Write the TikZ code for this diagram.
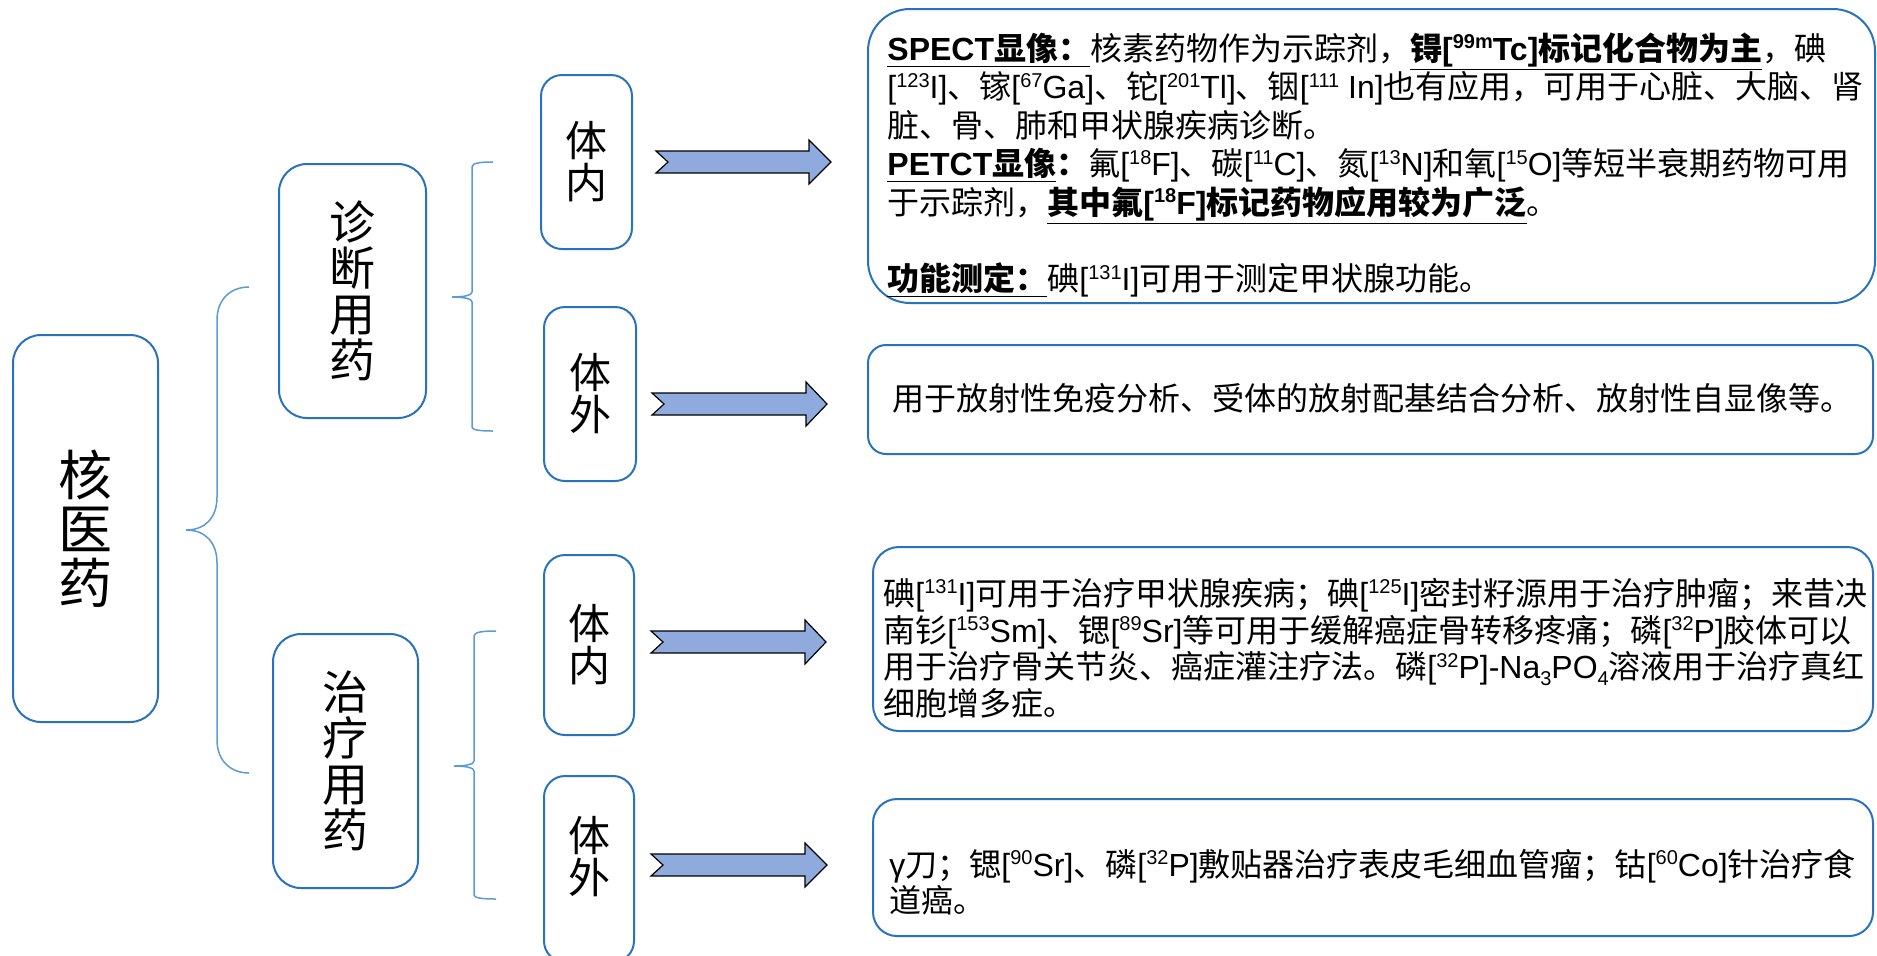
\documentclass[tikz,border=0pt]{standalone}
\usepackage{fontspec}
\setmainfont{Noto Sans CJK SC}
\newfontfamily\latf{Liberation Sans}
\definecolor{boxblue}{RGB}{40,114,190}
\definecolor{braceblue}{RGB}{91,155,213}
\definecolor{arrowfill}{RGB}{143,170,220}
\newcommand\sups[1]{\raisebox{0.36em}{\fontsize{10}{10}\selectfont #1}}
\newcommand\subs[1]{\raisebox{-0.22em}{\fontsize{10}{10}\selectfont #1}}
\newcommand\iso[2]{{\latf[\sups{#1}#2]}}
\newcommand\fw[1]{\makebox[1em][l]{#1}}
\newcommand\blockarrow[4]{%
  \draw[barrow] (#1,#4-11) -- (#2,#4-11) -- (#2,#4-22) -- (#3,#4) -- (#2,#4+22) -- (#2,#4+11) -- (#1,#4+11) -- (#1+12,#4) -- cycle;}
\begin{document}
\begin{tikzpicture}[x=0.5pt,y=-0.5pt,
  lbox/.style={draw=boxblue, line width=1pt, inner sep=0pt, align=center},
  tbox/.style={draw=boxblue, line width=1pt, inner sep=0pt},
  txt/.style={anchor=north west, inner sep=0pt, align=left},
  brace/.style={draw=braceblue, line width=0.75pt},
  barrow/.style={draw=black, line width=0.6pt, fill=arrowfill}]
\useasboundingbox (0,0) rectangle (1877,955);

% left label boxes
\node[lbox, rounded corners=14pt, minimum width=72.5pt, minimum height=193.5pt,
  font=\fontsize{27}{27}\selectfont] (root) at (85.5,528.5) {核\\医\\药};
\node[lbox, rounded corners=14pt, minimum width=73.5pt, minimum height=127pt,
  font=\fontsize{23}{23}\selectfont] (diag) at (352.5,291) {诊\\断\\用\\药};
\node[lbox, rounded corners=14pt, minimum width=72.5pt, minimum height=127pt,
  font=\fontsize{23}{23}\selectfont] (ther) at (345.5,761) {治\\疗\\用\\药};
\node[lbox, rounded corners=10.5pt, minimum width=45.5pt, minimum height=87pt,
  font=\fontsize{21}{21}\selectfont] (din) at (586.5,162) {体\\内};
\node[lbox, rounded corners=10.5pt, minimum width=46pt, minimum height=87pt,
  font=\fontsize{21}{21}\selectfont] (dout) at (590,394) {体\\外};
\node[lbox, rounded corners=10.5pt, minimum width=45pt, minimum height=90pt,
  font=\fontsize{21}{21}\selectfont] (tin) at (589,645) {体\\内};
\node[lbox, rounded corners=10.5pt, minimum width=45pt, minimum height=93pt] (tout) at (589,869) {};
\node[inner sep=0pt, align=center, font=\fontsize{21}{21}\selectfont] (toutlabel) at (589,857) {体\\外};

% braces
\draw[brace] (249,287) .. controls (230,287) and (217,300) .. (217,320) -- (217,497)
  .. controls (217,518) and (205,530) .. (186,530)
  .. controls (205,530) and (217,542) .. (217,563) -- (217,740)
  .. controls (217,760) and (230,773) .. (249,773);
\draw[brace] (493,162) .. controls (480,162) and (472,163) .. (472,167) -- (472,292)
  .. controls (472,295) and (465,297) .. (452,297)
  .. controls (465,297) and (472,299) .. (472,302) -- (472,427)
  .. controls (472,430) and (480,431) .. (493,431);
\draw[brace] (496,631) .. controls (483,631) and (474,632) .. (474,636) -- (474,761)
  .. controls (474,764) and (467,766) .. (454,766)
  .. controls (467,766) and (474,768) .. (474,771) -- (474,895)
  .. controls (474,898) and (483,899) .. (496,899);

% block arrows
\blockarrow{656}{809}{831}{162}
\blockarrow{652}{806}{827}{404}
\blockarrow{651}{805}{826}{642}
\blockarrow{651}{805}{827}{865}

% right text boxes
\node[tbox, rounded corners=21pt, minimum width=503.5pt, minimum height=147pt] (b1) at (1371.5,156) {};
\node[tbox, rounded corners=9pt, minimum width=502.5pt, minimum height=54.5pt] (b2) at (1370.5,399.5) {};
\node[tbox, rounded corners=13pt, minimum width=500pt, minimum height=92pt] (b3) at (1373,639) {};
\node[tbox, rounded corners=12pt, minimum width=500pt, minimum height=68.5pt] (b4) at (1373,867.5) {};

\node[txt, font=\fontsize{16}{19.2}\selectfont] (t1) at (887,28) {%
\rule{0pt}{16pt}\underline{\textbf{{\latf SPECT}显像\fw{：}}}核素药物作为示踪剂\fw{，}\underline{\textbf{锝\iso{99m}{Tc}标记化合物为主}}\fw{，}碘\\
\iso{123}{I}、镓\iso{67}{Ga}、铊\iso{201}{Tl}、铟{\latf[\sups{111} In]}也有应用，可用于心脏、大脑、肾\\
脏、骨、肺和甲状腺疾病诊断。\\
\underline{\textbf{{\latf PETCT}显像}}\textbf{：}氟\iso{18}{F}、碳\iso{11}{C}、氮\iso{13}{N}和氧\iso{15}{O}等短半衰期药物可用\\
于示踪剂，\underline{\textbf{其中氟\iso{18}{F}标记药物应用较为广泛}}。\\
\mbox{}\\
\underline{\textbf{功能测定：}}碘\iso{131}{I}可用于测定甲状腺功能。};

\node[txt, font=\fontsize{16}{19.2}\selectfont] (t2) at (892,378) {%
\rule{0pt}{16pt}用于放射性免疫分析、受体的放射配基结合分析、放射性自显像等。};

\node[txt, font=\fontsize{16}{18.3}\selectfont] (t3) at (883,573) {%
\rule{0pt}{16pt}碘\iso{131}{I}可用于治疗甲状腺疾病；碘\iso{125}{I}密封籽源用于治疗肿瘤；来昔决\\
南钐\iso{153}{Sm}、锶\iso{89}{Sr}等可用于缓解癌症骨转移疼痛；磷\iso{32}{P}胶体可以\\
用于治疗骨关节炎、癌症灌注疗法。磷\iso{32}{P}{\latf -Na\subs{3}PO\subs{4}}溶液用于治疗真红\\
细胞增多症。};

\node[txt, font=\fontsize{16}{16.3}\selectfont] (t4) at (889,844) {%
\rule{0pt}{16pt}{\latf γ}刀；锶\iso{90}{Sr}、磷\iso{32}{P}敷贴器治疗表皮毛细血管瘤；钴\iso{60}{Co}针治疗食\\
道癌。};
\end{tikzpicture}
\end{document}
